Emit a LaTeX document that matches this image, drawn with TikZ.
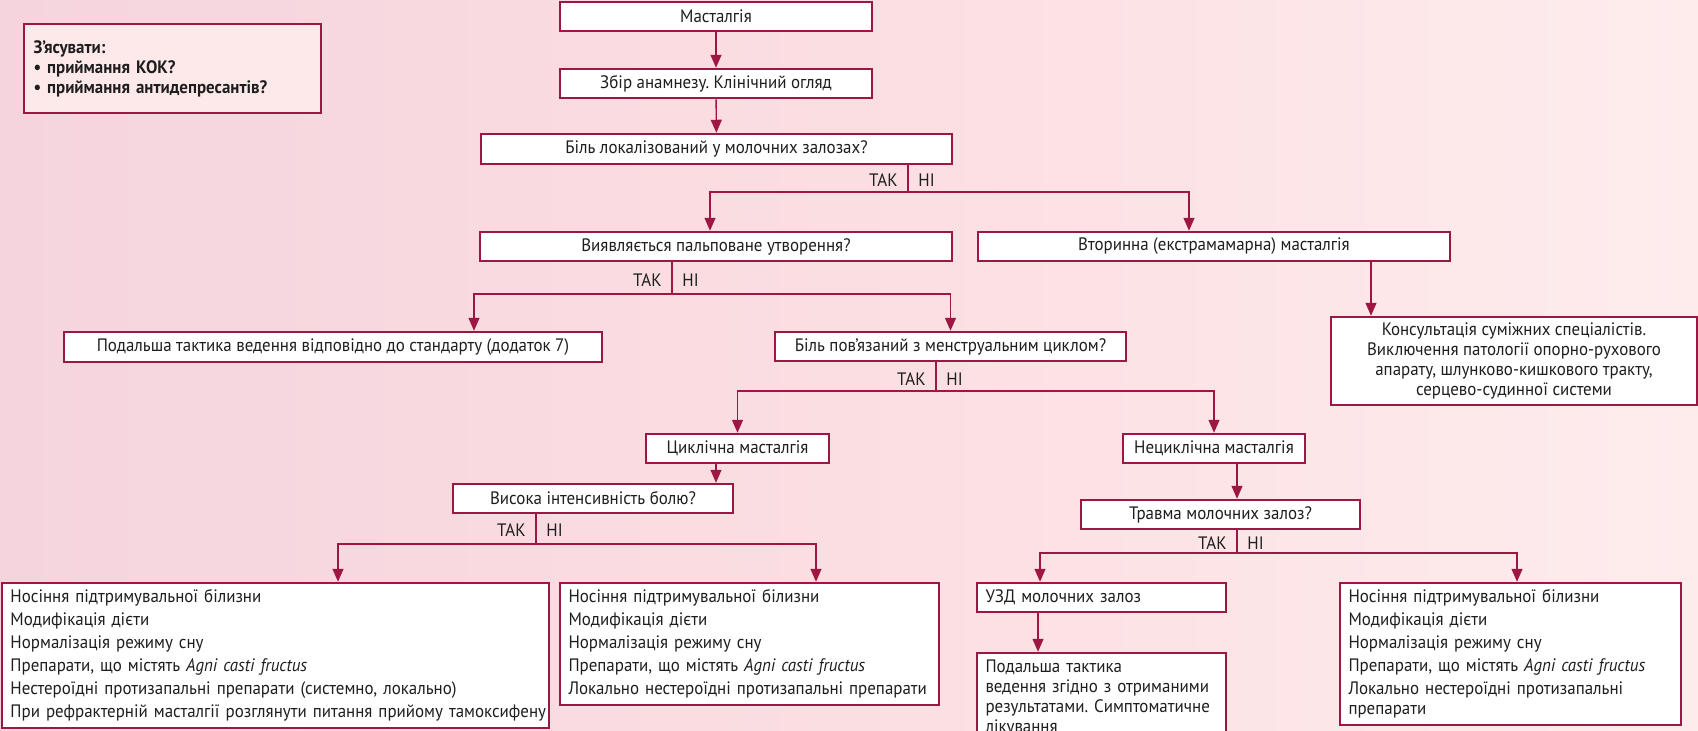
\documentclass[tikz,border=0pt]{standalone}
\usepackage{fontspec}
\setmainfont{PT Sans}[FakeStretch=0.94]
\usetikzlibrary{arrows.meta,calc}
\definecolor{crim}{RGB}{158,22,68}
\definecolor{txt}{RGB}{30,30,30}
\definecolor{bgL}{RGB}{245,212,222}
\definecolor{bgM}{RGB}{251,222,226}
\definecolor{bgR}{RGB}{254,236,237}
\definecolor{zfill}{RGB}{253,232,234}
\frenchspacing
\newcommand\mainsz{\fontsize{9}{10}\selectfont}
\newcommand\wrapsz{\fontsize{9}{10}\selectfont}
\newcommand\lstsz{\fontsize{9}{11.5}\selectfont}
\newcommand\zsz{\fontsize{9}{10}\selectfont\bfseries}
\newcommand\boxnode[6][]{%
  \pgfmathsetmacro\bw{(#5-#3)*0.5}%
  \pgfmathsetmacro\bh{(#6-#4)*0.5}%
  \pgfmathsetmacro\bcx{(#3+#5)/2}%
  \pgfmathsetmacro\bcy{(#4+#6)/2}%
  \node[box,minimum width=\bw pt,minimum height=\bh pt,#1] (#2) at (\bcx,\bcy)}
\begin{document}
\begin{tikzpicture}[x=0.5pt,y=-0.5pt,
  box/.style={draw=crim,line width=1.25pt,fill=white,inner sep=0pt,text=txt,font=\mainsz},
  lst/.style={align=left,inner xsep=4pt,font=\lstsz},
  lbl/.style={inner sep=0pt,text=txt,font=\mainsz},
  wire/.style={draw=crim,line width=0.7pt},
  arr/.style={wire,-{Triangle[width=5.5pt,length=6.5pt]}}]
\useasboundingbox (0,0) rectangle (1698,730);
\clip (0,0) rectangle (1698,730);
\shade[left color=bgL,right color=bgR,middle color=bgM] (0,0) rectangle (1698,730);

\boxnode[fill=zfill,align=left,text width=139pt,inner xsep=4.5pt,font=\zsz,yshift=-1pt]{zyas}{24}{22}{321}{111}{З’ясувати:\\• приймання КОК?\\• приймання антидепресантів?};
\boxnode{mast}{560}{2}{872}{31}{Масталгія};
\boxnode{zbir}{560}{69}{872}{98}{Збір анамнезу. Клінічний огляд};
\boxnode{q1}{481}{134}{952}{164}{Біль локалізований у молочних залозах?};
\boxnode{q2}{480}{232}{952}{261}{Виявляється пальповане утворення?};
\boxnode{sec}{978}{232}{1450}{261}{Вторинна (екстрамамарна) масталгія};
\boxnode{pod1}{64}{332}{602}{362}{Подальша тактика ведення відповідно до стандарту (додаток 7)};
\boxnode{q3}{775}{332}{1126}{361}{Біль пов’язаний з менструальним циклом?};
\boxnode[align=center,font=\wrapsz]{cons}{1331}{317}{1697}{405}{Консультація суміжних спеціалістів.\\Виключення патології опорно-рухового\\апарату, шлунково-кишкового тракту,\\серцево-судинної системи};
\boxnode{cyc}{646}{434}{829}{463}{Циклічна масталгія};
\boxnode{noncyc}{1123}{434}{1305}{463}{Нециклічна масталгія};
\boxnode{q4}{453}{484}{733}{513}{Висока інтенсивність болю?};
\boxnode{q5}{1081}{500}{1360}{529}{Травма молочних залоз?};
\boxnode[lst,text width=265pt]{l1}{2}{583}{549}{728}{Носіння підтримувальної білизни\\Модифікація дієти\\Нормалізація режиму сну\\Препарати, що містять \textit{Agni casti fructus}\\\mbox{Нестероїдні протизапальні препарати (системно, локально)}\\\mbox{При рефрактерній масталгії розглянути питання прийому тамоксифену}};
\boxnode[lst,text width=181pt]{l2}{560}{583}{939}{705}{Носіння підтримувальної білизни\\Модифікація дієти\\Нормалізація режиму сну\\Препарати, що містять \textit{Agni casti fructus}\\\mbox{Локально нестероїдні протизапальні препарати}};
\boxnode[lst,text width=116pt]{uzd}{977}{583}{1226}{612}{УЗД молочних залоз};
\boxnode[lst,text width=116pt,font=\wrapsz]{pod2}{977}{653}{1226}{744}{Подальша тактика\\\mbox{ведення згідно з отриманими}\\\mbox{результатами. Симптоматичне}\\лікування};
\boxnode[lst,text width=162pt]{l4}{1340}{583}{1681}{725}{Носіння підтримувальної білизни\\Модифікація дієти\\Нормалізація режиму сну\\\mbox{Препарати, що містять \textit{Agni casti fructus}}\\\mbox{Локально нестероїдні протизапальні}\\[-1.5pt]препарати};

\draw[arr] (mast) -- (zbir);
\draw[arr] (zbir) -- (q1);

\coordinate (j1) at (908,192);
\draw[wire] (q1.south -| j1) -- (j1);
\draw[arr] (j1) -| ($(q2.north)+(-6,0)$);
\draw[arr] (j1) -| ($(sec.north)+(-25,0)$);
\node[lbl,anchor=east] (t1) at (898,180) {ТАК};
\node[lbl,anchor=west] (n1) at (918,180) {НІ};

\coordinate (j2) at (672,294);
\draw[wire] (q2.south -| j2) -- (j2);
\draw[arr] (j2) -| ($(pod1.north)+(141,0)$);
\draw[arr] (j2) -| (q3.north);
\node[lbl,anchor=east] (t2) at (662,280) {ТАК};
\node[lbl,anchor=west] (n2) at (682,280) {НІ};

\draw[arr] ($(sec.south)+(157,0)$) -- ($(cons.north)+(-143,0)$);

\coordinate (j3) at (936,391);
\draw[wire] (q3.south -| j3) -- (j3);
\draw[arr] (j3) -| (cyc.north);
\draw[arr] (j3) -| (noncyc.north);
\node[lbl,anchor=east] (t3) at (926,379) {ТАК};
\node[lbl,anchor=west] (n3) at (946,379) {НІ};

\draw[arr] ($(cyc.south)+(-21.5,0)$) -- ($(q4.north)+(123,0)$);

\coordinate (j4) at (536,544);
\draw[wire] (q4.south -| j4) -- (j4);
\draw[arr] (j4) -| ($(l1.north)+(62.5,0)$);
\draw[arr] (j4) -| ($(l2.north)+(66.5,0)$);
\node[lbl,anchor=east] (t4) at (526,530) {ТАК};
\node[lbl,anchor=west] (n4) at (546,530) {НІ};

\draw[arr] ($(noncyc.south)+(23,0)$) -- ($(q5.north)+(16.5,0)$);

\coordinate (j5) at (1237,553);
\draw[wire] (q5.south -| j5) -- (j5);
\draw[arr] (j5) -| ($(uzd.north)+(-61.5,0)$);
\draw[arr] (j5) -| ($(l4.north)+(6.5,0)$);
\node[lbl,anchor=east] (t5) at (1227,543) {ТАК};
\node[lbl,anchor=west] (n5) at (1247,543) {НІ};

\draw[arr] ($(uzd.south)+(-63.5,0)$) -- ($(pod2.north)+(-63.5,0)$);
\end{tikzpicture}
\end{document}
